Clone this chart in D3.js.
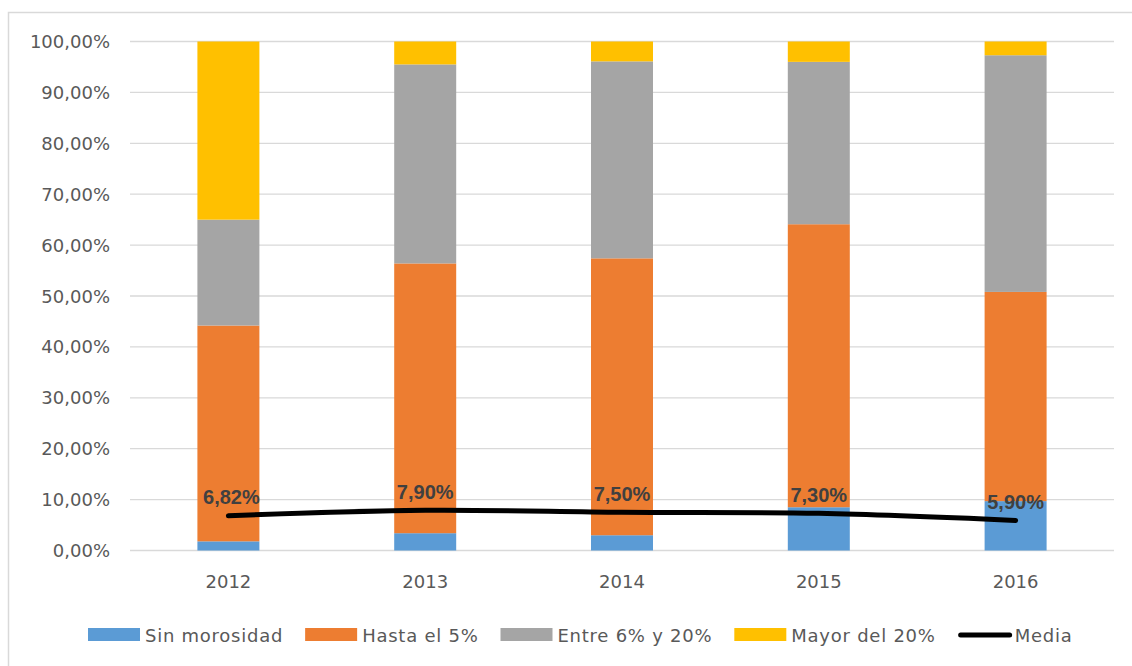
<!DOCTYPE html>
<html>
<head>
<meta charset="utf-8">
<script src="https://cdnjs.cloudflare.com/ajax/libs/d3/7.8.5/d3.min.js"></script>
<style>
  html, body { margin: 0; padding: 0; background: #fff; }
  svg { display: block; }
</style>
</head>
<body>
<svg id="chart" width="1132" height="666"></svg>
<script>
// Distribución de la morosidad por año (porcentajes)
const years = ["2012", "2013", "2014", "2015", "2016"];
const sinMorosidad = [1.8, 3.4, 3.0, 8.5, 9.7];
const hastaEl5 = [42.4, 53.0, 54.4, 55.6, 41.1];
const entre6y20 = [20.8, 39.1, 38.7, 31.9, 46.5];
const mayorDel20 = [35.0, 4.5, 3.9, 4.0, 2.7];
const media = [6.82, 7.90, 7.50, 7.30, 5.90];
const mediaLabels = ["6,82%", "7,90%", "7,50%", "7,30%", "5,90%"];
const yTicks = [0, 10, 20, 30, 40, 50, 60, 70, 80, 90, 100];
const seriesNames = ["Sin morosidad", "Hasta el 5%", "Entre 6% y 20%", "Mayor del 20%"];
const seriesColors = ["#5b9bd5", "#ed7d31", "#a5a5a5", "#ffc000"];

const svg = d3.select("#chart");

// outer chart frame
svg.append("rect")
  .attr("x", 8.5).attr("y", 12.5)
  .attr("width", 1140).attr("height", 670)
  .attr("fill", "none").attr("stroke", "#d9d9d9").attr("stroke-width", 1.5);

const x = d3.scaleBand().domain(years).range([130, 1114]).padding(0);
const y = d3.scaleLinear().domain([0, 100]).range([550.5, 41.5]);
const barW = x.bandwidth() * 0.315;

// gridlines
svg.append("g").selectAll("line").data(yTicks).join("line")
  .attr("x1", 130).attr("x2", 1114)
  .attr("y1", d => y(d)).attr("y2", d => y(d))
  .attr("stroke", "#d9d9d9").attr("stroke-width", 1.3);

// y tick labels
const fmt = d => d.toFixed(2).replace(".", ",") + "%";
svg.append("g").selectAll("text").data(yTicks).join("text")
  .attr("x", 110).attr("y", d => y(d))
  .attr("text-anchor", "end").attr("dominant-baseline", "central")
  .attr("font-family", "DejaVu Sans").attr("font-size", 18)
  .attr("fill", "#595959")
  .text(fmt);

// x tick labels
svg.append("g").selectAll("text").data(years).join("text")
  .attr("x", d => x(d) + x.bandwidth() / 2).attr("y", 581)
  .attr("text-anchor", "middle").attr("dominant-baseline", "central")
  .attr("font-family", "DejaVu Sans").attr("font-size", 18)
  .attr("fill", "#595959")
  .text(d => d);

// stacked bars
const rows = years.map((yr, i) => ({
  year: yr, s0: sinMorosidad[i], s1: hastaEl5[i], s2: entre6y20[i], s3: mayorDel20[i]
}));
const stack = d3.stack().keys(["s0", "s1", "s2", "s3"])(rows);
svg.append("g").selectAll("g").data(stack).join("g")
  .attr("fill", (d, i) => seriesColors[i])
  .selectAll("rect").data(d => d).join("rect")
  .attr("x", d => x(d.data.year) + x.bandwidth() / 2 - barW / 2)
  .attr("width", barW)
  .attr("y", d => y(d[1]))
  .attr("height", d => y(d[0]) - y(d[1]));

// average line
const pts = years.map((yr, i) => [x(yr) + x.bandwidth() / 2, y(media[i])]);
svg.append("path")
  .attr("d", d3.line().curve(d3.curveCardinal.tension(0))(pts))
  .attr("fill", "none").attr("stroke", "#000")
  .attr("stroke-width", 5).attr("stroke-linecap", "round");

// value labels
svg.append("g").selectAll("text").data(pts).join("text")
  .attr("x", (d, i) => d[0] + (i === 0 ? 3 : 0))
  .attr("y", d => d[1] - 11.5)
  .attr("text-anchor", "middle")
  .attr("font-family", "Liberation Sans").attr("font-weight", "bold")
  .attr("font-size", 20).attr("fill", "#404040")
  .text((d, i) => mediaLabels[i]);

// legend
const legend = svg.append("g");
let lx = 88;
const ly = 635;
const items = seriesNames.map((n, i) => ({ name: n, color: seriesColors[i], type: "rect" }))
  .concat([{ name: "Media", color: "#000", type: "line" }]);
items.forEach(it => {
  if (it.type === "rect") {
    legend.append("rect").attr("x", lx).attr("y", ly - 7).attr("width", 52).attr("height", 13)
      .attr("fill", it.color);
  } else {
    legend.append("line").attr("x1", lx + 3).attr("x2", lx + 52).attr("y1", ly).attr("y2", ly)
      .attr("stroke", "#000").attr("stroke-width", 5).attr("stroke-linecap", "round");
  }
  lx += 57;
  const t = legend.append("text").attr("x", lx).attr("y", ly)
    .attr("dominant-baseline", "central")
    .attr("font-family", "DejaVu Sans").attr("font-size", 18)
    .attr("letter-spacing", 0.75)
    .attr("fill", "#595959").text(it.name);
  lx += t.node().getComputedTextLength() + 22;
});
</script>
</body>
</html>
